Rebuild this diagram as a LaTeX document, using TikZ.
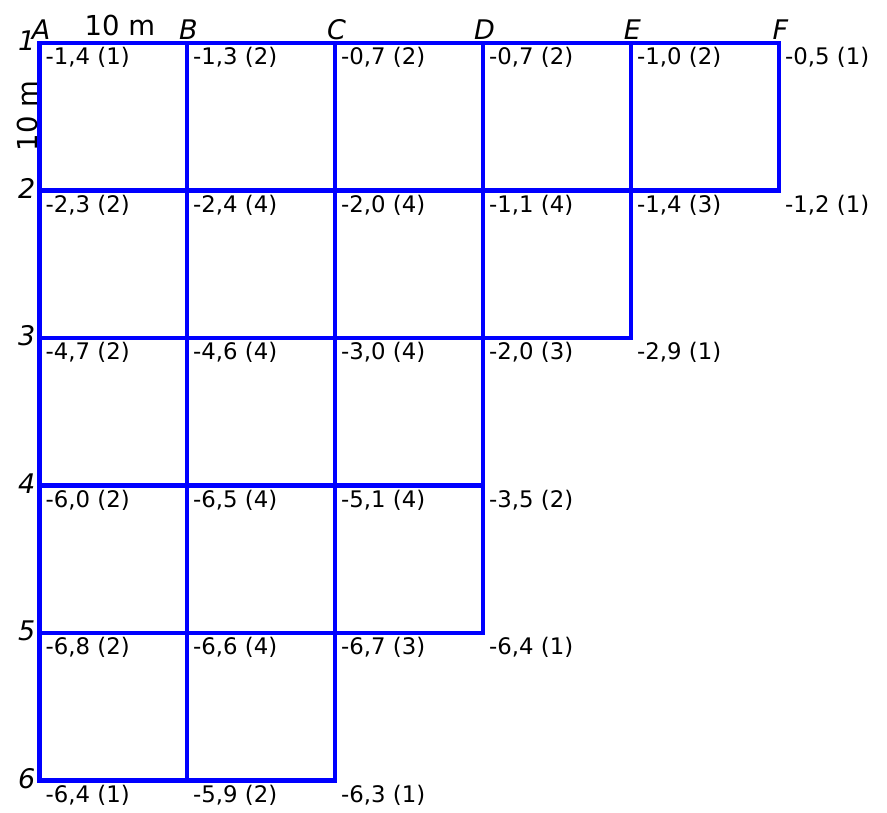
\documentclass[tikz,border=0pt]{standalone}
\usepackage{fontspec}
\setmainfont{DejaVu Sans}
\usetikzlibrary{calc}
\begin{document}
\begin{tikzpicture}[x=1pt,y=-1pt,
  gridline/.style={draw=blue,line width=4.4pt,line cap=rect},
  val/.style={anchor=base west,inner sep=0pt,font=\fontsize{22.8}{22.8}\selectfont},
  collab/.style={anchor=base,inner sep=0pt,font=\fontsize{27}{27}\selectfont\itshape},
  rowlab/.style={anchor=east,inner sep=0pt,font=\fontsize{27}{27}\selectfont\itshape},
  dim/.style={inner sep=0pt,font=\fontsize{27.5}{27.5}\selectfont}]
\useasboundingbox (0,0) rectangle (887,812);
% grid coordinates
\foreach \c/\x in {A/39.5,B/187,C/335,D/483,E/631,F/779}{
  \foreach \r/\y in {1/43,2/190.5,3/338,4/485.5,5/633,6/780.5}{
    \coordinate (\c\r) at (\x,\y);
  }
}
% horizontal lines
\draw[gridline] (A1) -- (F1);
\draw[gridline] (A2) -- (F2);
\draw[gridline] (A3) -- (E3);
\draw[gridline] (A4) -- (D4);
\draw[gridline] (A5) -- (D5);
\draw[gridline] (A6) -- (C6);
% vertical lines
\draw[gridline] (A1) -- (A6);
\draw[gridline] (B1) -- (B6);
\draw[gridline] (C1) -- (C6);
\draw[gridline] (D1) -- (D5);
\draw[gridline] (E1) -- (E3);
\draw[gridline] (F1) -- (F2);
% column letters
\foreach \c in {A,B,C,D,E,F}{
  \node[collab] (lab\c) at ($(\c1)+(1.5,-4)$) {\c};
}
% row numbers
\foreach \r in {1,...,6}{
  \node[rowlab] (row\r) at ($(A\r)+(-4,-2)$) {\r};
}
% dimensions
\node[dim,anchor=base] (dimh) at (120,35) {10 m};
\node[dim,rotate=90] (dimv) at (27,116) {10 m};
% values
\foreach \p/\t in {A1/{-1,4 (1)},B1/{-1,3 (2)},C1/{-0,7 (2)},D1/{-0,7 (2)},E1/{-1,0 (2)},F1/{-0,5 (1)},
  A2/{-2,3 (2)},B2/{-2,4 (4)},C2/{-2,0 (4)},D2/{-1,1 (4)},E2/{-1,4 (3)},F2/{-1,2 (1)},
  A3/{-4,7 (2)},B3/{-4,6 (4)},C3/{-3,0 (4)},D3/{-2,0 (3)},E3/{-2,9 (1)},
  A4/{-6,0 (2)},B4/{-6,5 (4)},C4/{-5,1 (4)},D4/{-3,5 (2)},
  A5/{-6,8 (2)},B5/{-6,6 (4)},C5/{-6,7 (3)},D5/{-6,4 (1)},
  A6/{-6,4 (1)},B6/{-5,9 (2)},C6/{-6,3 (1)}}{
  \node[val] (v\p) at ($(\p)+(6,21.5)$) {\t};
}
\end{tikzpicture}
\end{document}
